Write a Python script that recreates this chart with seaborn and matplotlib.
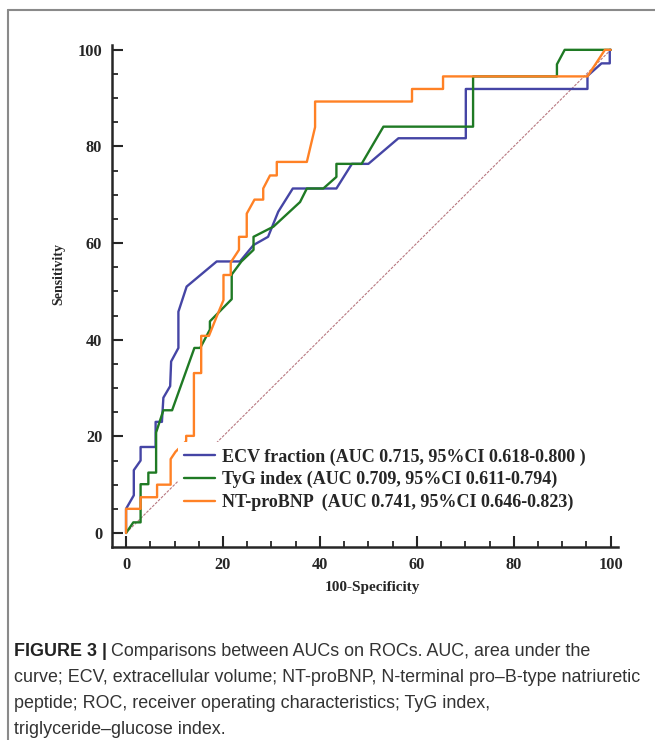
import matplotlib
matplotlib.use('Agg')
import matplotlib.pyplot as plt
from matplotlib.lines import Line2D
from matplotlib.ticker import MultipleLocator
import seaborn as sns
import pandas as pd

# ROC points (100-specificity, sensitivity)
ecv_x = [0, 0, 1.6, 1.6, 3.0, 3.0, 6.1, 6.1, 7.4, 7.7, 9.1, 9.3, 10.8, 10.8, 12.5, 18.7,
         23.5, 26.3, 29.3, 31.4, 34.4, 43.4, 46.6, 50.0, 56.2, 70.1, 70.1, 95.2, 95.2,
         98.1, 99.8, 99.8, 100]
ecv_y = [0, 5.0, 7.8, 13.0, 15.0, 17.8, 17.8, 23.0, 23.0, 28.0, 30.4, 35.5, 38.3, 45.8,
         51.0, 56.2, 56.2, 59.6, 61.3, 66.5, 71.3, 71.3, 76.4, 76.4, 81.7, 81.7, 91.9,
         91.9, 94.6, 97.2, 97.2, 100, 100]

tyg_x = [0, 1.5, 3.0, 3.0, 4.6, 4.6, 6.2, 6.2, 7.7, 9.5, 14.1, 15.3, 17.3, 17.3, 21.8,
         21.8, 23.8, 26.3, 26.3, 30.4, 35.9, 37.3, 40.7, 43.4, 43.4, 48.6, 53.1, 71.6,
         71.6, 88.9, 88.9, 90.5, 100]
tyg_y = [0, 2.2, 2.2, 10.1, 10.1, 12.5, 12.5, 20.8, 25.4, 25.4, 38.3, 38.3, 42.1, 43.8,
         48.4, 53.5, 56.2, 58.6, 61.3, 63.4, 68.5, 71.3, 71.3, 73.7, 76.4, 76.4, 84.1,
         84.1, 94.5, 94.5, 97.0, 100, 100]

bnp_x = [0, 0, 3.0, 3.0, 6.4, 6.4, 9.2, 9.2, 10.2, 12.4, 12.4, 14.0, 14.0, 15.5, 15.5,
         17.1, 18.7, 20.1, 20.1, 21.6, 21.6, 23.3, 23.3, 24.9, 24.9, 26.5, 28.3, 28.3,
         29.7, 31.1, 31.1, 37.3, 39.0, 39.0, 59.0, 59.0, 65.4, 65.4, 95.2, 98.8, 100]
bnp_y = [0, 5.0, 5.0, 7.4, 7.4, 10.0, 10.0, 15.3, 16.8, 19.0, 20.1, 20.1, 33.1, 33.1,
         40.8, 40.8, 44.8, 48.2, 53.4, 53.4, 56.0, 58.6, 61.3, 61.3, 66.1, 69.0, 69.0,
         71.3, 74.0, 74.0, 76.8, 76.8, 84.0, 89.3, 89.3, 91.9, 91.9, 94.5, 94.5, 100, 100]

ref_x = [0, 100]
ref_y = [0, 100]

labels = ['ECV fraction (AUC 0.715, 95%CI 0.618-0.800 )',
          'TyG index (AUC 0.709, 95%CI 0.611-0.794)',
          'NT-proBNP  (AUC 0.741, 95%CI 0.646-0.823)']
colors = ['#4545a5', '#1f7a24', '#ff8125']

caption = ['Comparisons between AUCs on ROCs. AUC, area under the',
           'curve; ECV, extracellular volume; NT-proBNP, N-terminal pro\u2013B-type natriuretic',
           'peptide; ROC, receiver operating characteristics; TyG index,',
           'triglyceride\u2013glucose index.']

sns.set_style('ticks')
plt.rcParams['font.family'] = ['Liberation Serif', 'DejaVu Serif']

fig = plt.figure(figsize=(6.55, 7.40), dpi=100)
ax = fig.add_axes([112 / 655, 193 / 740, 506 / 655, 502 / 740])

ax.plot(ref_x, ref_y, color='#b87880', lw=0.8, ls=(0, (2.5, 1.2)), zorder=1)

series = [(ecv_x, ecv_y), (tyg_x, tyg_y), (bnp_x, bnp_y)]
for (xs, ys), lab, col in zip(series, labels, colors):
    df = pd.DataFrame({'fpr': xs, 'tpr': ys})
    sns.lineplot(data=df, x='fpr', y='tpr', sort=False, estimator=None,
                 color=col, lw=1.7, label=lab, ax=ax)

ax.set_xlim(-2.9, 101.5)
ax.set_ylim(-2.9, 101)
ax.xaxis.set_major_locator(MultipleLocator(20))
ax.xaxis.set_minor_locator(MultipleLocator(5))
ax.yaxis.set_major_locator(MultipleLocator(20))
ax.yaxis.set_minor_locator(MultipleLocator(5))
sns.despine(ax=ax)
for s in ['left', 'bottom']:
    ax.spines[s].set_linewidth(1.8)
ax.tick_params(which='major', direction='in', length=8, width=1.5, pad=7,
               labelsize=11.8)
ax.tick_params(which='minor', direction='in', length=4, width=1.3)
for t in ax.get_xticklabels() + ax.get_yticklabels():
    t.set_fontweight('bold')

ax.set_xlabel('100-Specificity', fontsize=11, fontweight='bold')
ax.set_ylabel('Sensitivity', fontsize=10, fontweight='bold')
ax.xaxis.set_label_coords(0.514, -0.068)
ax.yaxis.set_label_coords(-0.092, 0.544)

leg = ax.legend(loc='upper left', bbox_to_anchor=(178 / 655, 1 - 442 / 740),
                bbox_transform=fig.transFigure, borderaxespad=0, borderpad=0.35,
                handlelength=1.7, handletextpad=0.4, labelspacing=0.3,
                frameon=True, fancybox=False, framealpha=1,
                prop={'family': 'Liberation Serif', 'weight': 'bold', 'size': 13})
leg.get_frame().set_facecolor('white')
leg.get_frame().set_edgecolor('none')
for h in leg.get_lines():
    h.set_linewidth(1.7)

# page frame
fig.add_artist(Line2D([8 / 655, 1], [1 - 10 / 740, 1 - 10 / 740],
                      transform=fig.transFigure, color='#8a8a8a', lw=1.5))
fig.add_artist(Line2D([8 / 655, 8 / 655], [0, 1 - 10 / 740],
                      transform=fig.transFigure, color='#8a8a8a', lw=1.5))

# caption
cap_font = ['Liberation Sans', 'DejaVu Sans']
cap_size = 12.9
x0 = 14 / 655
base = [656, 682, 708, 734]
bold = fig.text(x0, 1 - base[0] / 740, 'FIGURE 3 |', family=cap_font,
                fontweight='bold', fontsize=cap_size, color='#222222', va='baseline')
fig.canvas.draw()
ext = bold.get_window_extent(renderer=fig.canvas.get_renderer())
fig.text((ext.x1 + 4) / 655, 1 - base[0] / 740, caption[0], family=cap_font,
         fontsize=cap_size, color='#333333', va='baseline')
for line, yb in zip(caption[1:], base[1:]):
    fig.text(x0, 1 - yb / 740, line, family=cap_font, fontsize=cap_size,
             color='#333333', va='baseline')

fig.savefig('out.png', dpi=100)
